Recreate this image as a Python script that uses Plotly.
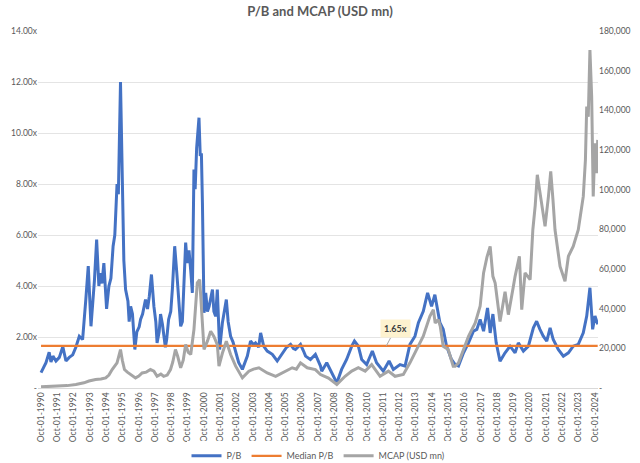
import plotly.graph_objects as go

# P/B readings (x)
pb_dates = [
    "1990-10-01", "1990-11-15", "1991-01-20", "1991-04-01", "1991-05-12", "1991-06-25",
    "1991-09-01", "1991-11-15", "1992-02-01", "1992-04-12", "1992-06-25", "1992-09-10",
    "1992-11-20", "1993-02-05", "1993-04-20", "1993-07-01", "1993-08-25", "1993-10-25",
    "1993-12-01", "1994-01-10", "1994-03-01", "1994-04-20", "1994-05-20", "1994-06-28",
    "1994-08-10", "1994-10-10", "1994-12-01", "1995-01-15", "1995-03-05", "1995-04-12",
    "1995-06-01", "1995-07-01", "1995-08-18", "1995-09-25", "1995-11-01", "1995-12-10",
    "1996-02-01", "1996-02-28", "1996-04-01", "1996-05-12", "1996-07-05", "1996-08-18",
    "1996-10-10", "1996-11-10", "1996-12-25", "1997-03-01", "1997-04-15", "1997-05-25",
    "1997-07-12", "1997-09-05", "1997-10-18", "1997-11-15", "1998-01-01", "1998-02-01",
    "1998-03-15", "1998-05-20", "1998-06-18", "1998-08-01", "1998-09-18", "1998-10-25",
    "1998-12-15", "1999-02-01", "1999-03-20", "1999-04-28", "1999-06-05", "1999-07-15",
    "1999-08-18", "1999-09-22", "1999-11-01", "1999-12-10", "2000-01-15", "2000-02-20",
    "2000-03-18", "2000-04-20", "2000-06-12", "2000-07-10", "2000-08-05", "2000-08-28",
    "2000-10-03", "2000-11-10", "2000-12-18", "2001-01-25", "2001-03-01", "2001-04-10",
    "2001-05-12", "2001-06-20", "2001-07-28", "2001-09-18", "2001-11-18", "2001-12-28",
    "2002-02-15", "2002-03-28", "2002-05-22", "2002-07-15", "2002-09-12", "2002-11-18",
    "2003-02-10", "2003-04-01", "2003-06-01", "2003-08-12", "2003-10-18", "2003-12-02",
    "2004-02-10", "2004-03-25", "2004-06-01", "2004-08-20", "2004-12-12", "2005-04-01",
    "2005-07-20", "2005-10-28", "2006-01-25", "2006-04-01", "2006-05-15", "2006-07-20",
    "2006-09-05", "2006-11-12", "2006-12-28", "2007-04-15", "2007-08-05", "2007-11-28",
    "2007-12-25", "2008-04-15", "2008-08-05", "2008-11-28", "2009-03-15", "2009-07-05",
    "2009-10-28", "2009-12-28", "2010-03-25", "2010-06-08", "2010-09-28", "2011-02-02",
    "2011-05-08", "2011-10-05", "2012-02-12", "2012-05-18", "2012-10-15", "2013-02-05",
    "2013-05-25", "2013-09-15", "2013-12-01", "2014-03-20", "2014-06-25", "2014-09-22",
    "2014-12-05", "2015-03-28", "2015-06-10", "2015-08-25", "2015-12-12", "2016-03-05",
    "2016-05-18", "2016-09-08", "2016-12-28", "2017-04-18", "2017-07-03", "2017-09-15",
    "2017-12-01", "2018-02-28", "2018-04-28", "2018-06-28", "2018-09-10", "2018-12-05",
    "2019-03-28", "2019-07-18", "2019-11-08", "2020-01-20", "2020-05-12", "2020-09-01",
    "2020-12-22", "2021-03-05", "2021-05-18", "2021-08-01", "2021-10-18", "2022-01-01",
    "2022-03-12", "2022-07-03", "2022-10-25", "2023-02-15", "2023-06-03", "2023-09-25",
    "2024-01-15", "2024-04-01", "2024-06-12", "2024-08-12", "2024-10-03", "2024-12-03",
]
pb_values = [
    0.60, 0.78, 0.99, 1.40, 1.02, 1.25,
    1.06, 1.20, 1.62, 1.06, 1.20, 1.30,
    1.60, 2.03, 1.90, 3.47, 4.78, 2.42,
    3.20, 4.20, 5.82, 4.00, 4.50, 4.10,
    4.90, 3.10, 4.00, 4.30, 5.56, 6.00,
    8.00, 7.60, 12.00, 7.50, 5.00, 3.86,
    3.40, 2.60, 3.20, 2.90, 1.51, 2.20,
    2.40, 2.69, 2.90, 3.47, 3.10, 3.60,
    4.45, 3.20, 2.60, 1.77, 2.20, 2.90,
    2.50, 1.60, 1.90, 2.69, 3.00, 3.90,
    5.56, 4.50, 3.40, 2.42, 2.60, 4.00,
    5.70, 4.90, 5.40, 4.60, 3.73, 8.57,
    7.80, 9.40, 10.60, 9.10, 9.20, 7.26,
    2.95, 3.73, 3.00, 3.20, 3.50, 3.86,
    3.00, 2.81, 3.86, 1.51, 2.55, 2.90,
    3.47, 2.60, 2.03, 1.80, 1.38, 1.00,
    0.73, 1.00, 1.25, 1.84, 1.70, 1.77,
    1.60, 2.16, 1.64, 1.45, 1.32, 1.06,
    1.32, 1.60, 1.71, 1.55, 1.51, 1.62,
    1.71, 1.45, 1.25, 1.12, 1.32, 0.86,
    0.66, 0.99, 0.60, 0.20, 0.73, 1.12,
    1.64, 1.84, 1.64, 1.12, 0.92, 1.45,
    0.99, 0.66, 1.06, 0.73, 0.92, 0.86,
    1.71, 2.03, 2.56, 3.01, 3.73, 3.20,
    3.66, 2.56, 2.30, 1.64, 1.12, 0.92,
    0.86, 1.38, 1.77, 2.23, 2.30, 2.69,
    2.23, 3.14, 2.16, 2.90, 1.77, 1.05,
    1.38, 1.64, 1.38, 1.77, 1.45, 1.64,
    2.36, 2.62, 2.30, 2.03, 1.84, 2.36,
    1.90, 1.51, 1.25, 1.38, 1.64, 1.71,
    2.16, 2.82, 3.93, 2.30, 2.82, 2.50,
]

# market cap readings (USD mn)
mcap_dates = [
    "1990-10-01", "1991-07-18", "1992-05-10", "1992-11-20", "1993-05-20", "1993-09-10",
    "1994-02-05", "1994-06-05", "1994-09-20", "1994-12-01", "1995-02-12", "1995-06-01",
    "1995-08-18", "1995-09-28", "1995-11-15", "1996-01-18", "1996-04-01", "1996-07-20",
    "1996-10-01", "1996-12-15", "1997-03-18", "1997-06-20", "1997-09-05", "1997-11-15",
    "1998-02-08", "1998-04-12", "1998-07-01", "1998-09-12", "1998-11-01", "1999-01-01",
    "1999-02-20", "1999-04-28", "1999-06-25", "1999-08-18", "1999-10-15", "1999-12-10",
    "2000-02-20", "2000-05-05", "2000-06-28", "2000-08-12", "2000-10-03", "2000-12-18",
    "2001-03-01", "2001-05-12", "2001-07-28", "2001-09-03", "2001-11-18", "2002-02-15",
    "2002-05-22", "2002-09-12", "2003-02-10", "2003-07-05", "2003-10-18", "2004-02-15",
    "2004-05-05", "2004-08-20", "2005-02-25", "2005-10-05", "2006-03-03", "2006-06-05",
    "2006-09-05", "2007-02-02", "2007-08-05", "2007-11-28", "2008-05-25", "2008-11-28",
    "2009-06-01", "2009-10-28", "2010-03-25", "2010-08-25", "2011-01-18", "2011-07-25",
    "2012-01-28", "2012-06-25", "2012-12-28", "2013-05-25", "2013-10-22", "2014-03-20",
    "2014-08-15", "2014-11-01", "2014-12-12", "2015-02-20", "2015-04-05", "2015-06-10",
    "2015-10-01", "2016-01-20", "2016-03-05", "2016-05-18", "2016-09-08", "2016-12-28",
    "2017-05-28", "2017-09-15", "2017-12-01", "2018-02-15", "2018-04-28", "2018-06-28",
    "2018-08-18", "2018-09-25", "2018-12-05", "2019-03-28", "2019-06-10", "2019-10-01",
    "2019-11-08", "2020-02-12", "2020-04-05", "2020-06-18", "2020-10-10", "2020-12-10",
    "2021-02-01", "2021-03-20", "2021-05-10", "2021-06-28", "2021-09-10", "2021-11-25",
    "2022-01-15", "2022-03-06", "2022-04-21", "2022-08-12", "2022-12-01", "2023-02-15",
    "2023-06-03", "2023-09-25", "2024-01-15", "2024-03-03", "2024-04-01", "2024-05-06",
    "2024-06-12", "2024-07-21", "2024-08-25", "2024-10-03", "2024-11-10", "2024-12-03",
]
mcap_values = [
    600, 800, 1200, 1800, 2600, 3500,
    4300, 4500, 5100, 6500, 9300, 12700,
    19400, 14000, 9300, 8000, 6800, 5100,
    6000, 7600, 8000, 9300, 8500, 5900,
    7000, 5900, 6500, 9300, 13000, 19400,
    16000, 10200, 14000, 21900, 18000, 16900,
    29500, 53000, 54600, 40000, 19400, 23600,
    28600, 26000, 21900, 11000, 17500, 23600,
    16900, 11000, 5100, 8500, 9500, 10200,
    9000, 7600, 5900, 8500, 10200, 9500,
    12700, 10200, 9300, 6800, 5000, 1800,
    5900, 8500, 10200, 8500, 11800, 5900,
    8500, 5900, 6800, 12700, 19400, 26100,
    36100, 39500, 32800, 34500, 31100, 21000,
    19400, 11000, 11000, 12700, 19400, 26100,
    32800, 41200, 58000, 66000, 71400, 56300,
    52900, 46200, 33500, 48500, 37000, 51300,
    56300, 66400, 39500, 58000, 54600, 79800,
    92000, 107500, 100000, 93200, 81500, 96600,
    109200, 95000, 79800, 61300, 53800, 66400,
    71400, 79800, 96600, 115000, 141900, 136800,
    170400, 146900, 96600, 123400, 108300, 125100,
]

median_pb = 1.65
pb_ticks = [0, 2, 4, 6, 8, 10, 12, 14]
pb_ticktext = ["-", "2.00x", "4.00x", "6.00x", "8.00x", "10.00x", "12.00x", "14.00x"]
mcap_ticks = [0, 20000, 40000, 60000, 80000, 100000, 120000, 140000, 160000, 180000]
mcap_ticktext = ["-", "20,000", "40,000", "60,000", "80,000", "100,000",
                 "120,000", "140,000", "160,000", "180,000"]
x_ticks = [f"{y}-10-01" for y in range(1990, 2025)]

FONT = "Lato, Carlito, Arial, sans-serif"
GREY_TXT = "#595959"

fig = go.Figure()
fig.add_trace(go.Scatter(x=pb_dates, y=pb_values, name="P/B", mode="lines",
                         line=dict(color="#4472C4", width=3)))
fig.add_trace(go.Scatter(x=[pb_dates[0], pb_dates[-1]], y=[median_pb, median_pb],
                         name="Median P/B", mode="lines",
                         line=dict(color="#ED7D31", width=2.25)))
fig.add_trace(go.Scatter(x=mcap_dates, y=mcap_values, name="MCAP (USD mn)", mode="lines",
                         line=dict(color="#A5A5A5", width=3), yaxis="y2"))

fig.add_annotation(x="2011-12-12", y=median_pb, text="<b>1.65x</b>", showarrow=True,
                   arrowhead=0, arrowwidth=1, arrowcolor="#A6A6A6", ax=9, ay=-17,
                   bgcolor="#FDF2CF", borderpad=3,
                   font=dict(family=FONT, size=9, color="#404040"))

fig.update_layout(
    width=640, height=463,
    template="plotly_white",
    paper_bgcolor="white", plot_bgcolor="white",
    margin=dict(l=38, r=42, t=31, b=75, autoexpand=False),
    title=dict(text="<b>P/B and MCAP (USD mn)</b>", x=0.5, xanchor="center", y=0.975,
               yanchor="middle", font=dict(family=FONT, size=13, color=GREY_TXT)),
    font=dict(family=FONT, size=9, color=GREY_TXT),
    showlegend=True,
    legend=dict(orientation="h", x=0.5, xanchor="center", y=-0.19, yanchor="middle",
                font=dict(size=9, color=GREY_TXT), itemwidth=30),
    xaxis=dict(type="date", range=["1990-07-25", "2024-12-10"], tickvals=x_ticks,
               tickformat="%b-%d-%Y", tickangle=-90, showgrid=False,
               showline=True, linecolor="#D9D9D9", ticks="", zeroline=False,
               tickfont=dict(size=8.5, color=GREY_TXT)),
    yaxis=dict(range=[0, 14], tickvals=pb_ticks, ticktext=pb_ticktext,
               showgrid=True, gridcolor="#E4E4E4", gridwidth=1, zeroline=False,
               ticks="", tickfont=dict(size=8.5, color=GREY_TXT)),
    yaxis2=dict(range=[0, 180000], tickvals=mcap_ticks, ticktext=mcap_ticktext,
                overlaying="y", side="right", showgrid=False, zeroline=False,
                ticks="", tickfont=dict(size=8.5, color=GREY_TXT)),
)

# the page body has a default 8px margin; drop it so the chart sits at the corner
fig.write_html("out.html", config={"displayModeBar": False},
               post_script="document.body.style.margin='0';")
